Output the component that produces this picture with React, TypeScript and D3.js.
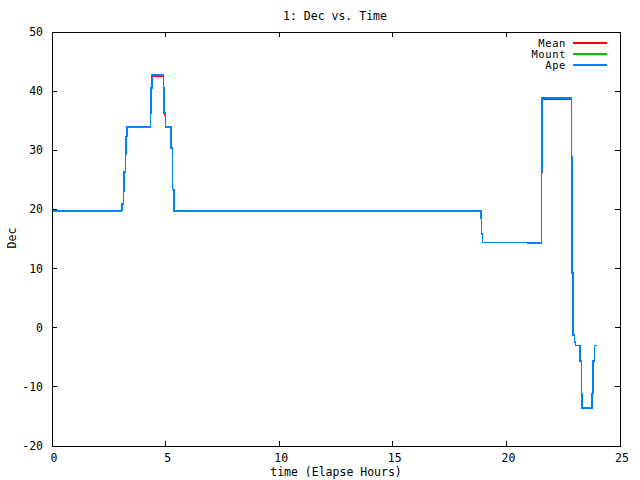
import React from "react";
import * as d3 from "d3";

const title = "1: Dec vs. Time";
const xLabel = "time (Elapse Hours)";
const yLabel = "Dec";
const xTicks = [0, 5, 10, 15, 20, 25];
const yTicks = [-20, -10, 0, 10, 20, 30, 40, 50];
const seriesNames = ["Mean", "Mount", "Ape"];
const seriesColors = ["#ff0000", "#00c000", "#0080ff"];

// step series: value holds from time[i] until time[i+1]
const apeTime = [0, 3.07, 3.14, 3.18, 3.23, 3.27, 3.31, 4.33, 4.37, 4.41, 4.9, 4.94, 4.99, 5.25, 5.31, 5.36, 18.87, 18.91, 18.94, 20.96, 21.54, 21.58, 22.86, 22.9, 22.94, 22.99, 23.05, 23.25, 23.3, 23.34, 23.78, 23.82, 23.87, 23.97];
const apeDec = [19.8, 21.0, 23.1, 26.3, 29.3, 32.3, 34.0, 36.3, 40.5, 42.7, 40.5, 36.3, 34.0, 30.4, 23.4, 19.8, 18.6, 15.8, 14.4, 14.3, 26.5, 38.8, 28.9, 9.3, -1.2, -2.4, -3.0, -5.6, -11.1, -13.6, -11.1, -5.6, -3.0, -3.0];
const mountTime = [0, 3.06, 3.14, 3.18, 3.23, 3.27, 3.31, 4.33, 4.37, 4.41, 4.9, 4.94, 4.99, 5.25, 5.31, 5.36, 18.87, 18.91, 18.94, 20.93, 21.54, 21.58, 22.86, 22.9, 22.94, 22.99, 23.05, 23.25, 23.3, 23.34, 23.78, 23.82, 23.87, 23.97];
const mountDec = [19.65, 20.9, 23.1, 26.3, 29.3, 32.3, 33.85, 36.2, 40.4, 42.7, 40.5, 36.3, 33.85, 30.4, 23.4, 19.65, 18.5, 15.8, 14.4, 14.2, 26.5, 38.8, 28.9, 9.3, -1.2, -2.4, -3.0, -5.6, -11.1, -13.6, -11.1, -5.6, -3.0, -3.0];
const meanTime = [0, 3.07, 3.14, 3.18, 3.23, 3.28, 3.31, 4.33, 4.37, 4.41, 4.9, 4.95, 4.99, 5.25, 5.31, 5.36, 18.87, 18.91, 18.94, 20.96, 21.54, 21.58, 22.86, 22.9, 22.94, 22.99, 23.05, 23.25, 23.3, 23.34, 23.78, 23.82, 23.87, 23.97];
const meanDec = [19.75, 21.0, 23.1, 26.3, 29.6, 32.3, 33.95, 36.3, 40.5, 42.45, 40.5, 36.0, 33.95, 30.4, 23.4, 19.75, 18.6, 15.8, 14.4, 14.3, 26.3, 38.65, 28.9, 9.3, -1.2, -2.4, -3.0, -5.6, -11.1, -13.6, -11.1, -5.6, -3.0, -3.0];

const W = 640, H = 480;
const L = 52, R = 620, T = 32, B = 446;
const font = "'DejaVu Sans Mono', monospace";

export default function App() {
  const x = d3.scaleLinear().domain([0, 25]).range([L, R]);
  const y = d3.scaleLinear().domain([-20, 50]).range([B, T]);
  const line = d3.line<[number, number]>().x(d => x(d[0])).y(d => y(d[1])).curve(d3.curveStepAfter);
  const series = [
    { t: meanTime, v: meanDec },
    { t: mountTime, v: mountDec },
    { t: apeTime, v: apeDec },
  ];
  const legendY = [43, 54, 65];
  return (
    <svg width={W} height={H} style={{ position: "absolute", left: 0, top: 0, background: "#fff" }}>
      <rect x={0} y={0} width={W} height={H} fill="#fff" />
      <g shapeRendering="crispEdges">
        {series.map((s, i) => (
          <path key={i} d={line(s.t.map((t, j) => [t, s.v[j]]) as [number, number][]) || ""} fill="none" stroke={seriesColors[i]} strokeWidth={i === 2 ? 1.6 : 1.4} />
        ))}
        <rect x={L} y={T} width={R - L} height={B - T} fill="none" stroke="#000" strokeWidth={1} />
        {xTicks.map(t => (
          <g key={"x" + t}>
            <line x1={x(t)} x2={x(t)} y1={B} y2={B - 5} stroke="#000" />
            <line x1={x(t)} x2={x(t)} y1={T} y2={T + 5} stroke="#000" />
          </g>
        ))}
        {yTicks.map(t => (
          <g key={"y" + t}>
            <line x1={L} x2={L + 5} y1={y(t)} y2={y(t)} stroke="#000" />
            <line x1={R} x2={R - 5} y1={y(t)} y2={y(t)} stroke="#000" />
          </g>
        ))}
        {seriesNames.map((n, i) => (
          <line key={"l" + n} x1={573} x2={607} y1={legendY[i]} y2={legendY[i]} stroke={seriesColors[i]} strokeWidth={1.5} />
        ))}
      </g>
      <g fontFamily={font} fontSize={11.5} fill="#000">
        {xTicks.map(t => (
          <text key={"xt" + t} x={x(t) + 2} y={458} textAnchor="middle" dominantBaseline="central">{t}</text>
        ))}
        {yTicks.map(t => (
          <text key={"yt" + t} x={43} y={y(t)} textAnchor="end" dominantBaseline="central">{t}</text>
        ))}
        {seriesNames.map((n, i) => (
          <text key={"ln" + n} x={566} y={legendY[i]} textAnchor="end" dominantBaseline="central" fontSize={10.5} letterSpacing={0.6}>{n}</text>
        ))}
        <text x={335} y={16} textAnchor="middle" dominantBaseline="central">{title}</text>
        <text x={336} y={472} textAnchor="middle" dominantBaseline="central">{xLabel}</text>
        <text x={0} y={0} transform="translate(12,238) rotate(-90)" textAnchor="middle" dominantBaseline="central">{yLabel}</text>
      </g>
    </svg>
  );
}
